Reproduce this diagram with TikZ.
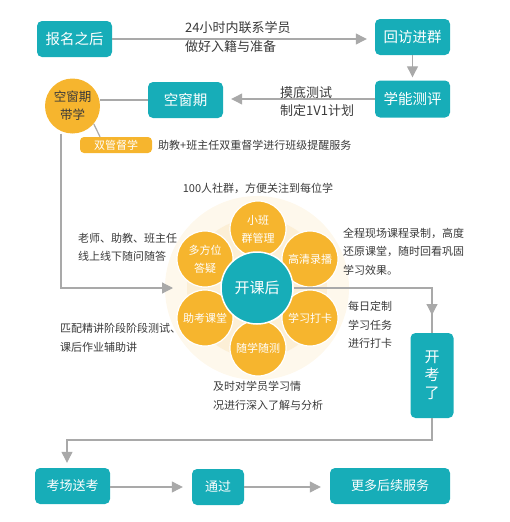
\documentclass[tikz,border=0pt]{standalone}
\usepackage{fontspec}
\setmainfont{Noto Sans CJK SC}
\usetikzlibrary{arrows.meta,positioning,calc}
\definecolor{teal1}{HTML}{17ADB8}
\definecolor{orng}{HTML}{F6B52E}
\definecolor{lgray}{HTML}{A9A9A9}
\definecolor{txt}{HTML}{3A3A3A}
\definecolor{pale1}{HTML}{FEF8EC}
\definecolor{pale2}{HTML}{FCEFD6}
\tikzset{
  tbox/.style={fill=teal1, rounded corners=5pt, text=white, inner sep=0pt, align=center, font=\fontsize{14.5}{16}\selectfont},
  bbox/.style={fill=teal1, rounded corners=5pt, text=white, inner sep=0pt, align=center, font=\fontsize{13}{15}\selectfont},
  petal/.style={circle, fill=orng, draw=white, line width=1.2pt, minimum size=56pt, inner sep=0pt, text=white, align=center, font=\fontsize{11}{18}\selectfont},
  lbl/.style={text=txt, inner sep=0pt, align=left, font=\fontsize{11}{18.5}\selectfont},
  lblb/.style={text=txt, inner sep=0pt, align=left, font=\fontsize{13}{18.5}\selectfont},
  conn/.style={draw=lgray, line width=1.2pt},
  arr/.style={conn, -{Triangle[width=11pt,length=11pt,fill=lgray]}},
}
\begin{document}
\begin{tikzpicture}[x=1pt,y=-1pt]
\useasboundingbox (0,0) rectangle (509,522);
% top row
\node[tbox, minimum width=75pt, minimum height=36pt] (bm) at (74.5,39) {报名之后};
\node[tbox, minimum width=75pt, minimum height=36pt] (hf) at (412.5,37) {回访进群};
\node[tbox, minimum width=75pt, minimum height=37pt] (xn) at (412.5,99) {学能测评};
\node[tbox, minimum width=75pt, minimum height=36pt] (kc) at (185.5,100) {空窗期};
\node[circle, fill=orng, minimum size=55pt, inner sep=0pt, text=txt, align=center, font=\fontsize{12.5}{18}\selectfont] (dx) at (72.5,106) {空窗期\\带学};
\node[fill=orng, rounded corners=4pt, minimum width=72pt, minimum height=16pt, inner sep=0pt, text=white, font=\fontsize{11}{13}\selectfont] (sg) at (116,145) {双管督学};

\draw[arr, shorten >=8pt] (bm.east) -- (hf.west |- bm.east);
\draw[arr, shorten >=3pt] (hf.south) -- (xn.north);
\draw[arr, shorten >=8pt] (xn.west) -- (kc.east |- xn.west);
\draw[conn] (dx.east |- kc.west) -- (kc.west);
\draw[conn] (dx.-40) -- (sg.north west -| 100,137);

\node[lblb, anchor=west] (t1) at (185,37) {24小时内联系学员\\做好入籍与准备};
\node[lblb, anchor=west] (t2) at (280,101.5) {摸底测试\\制定1V1计划};
\node[lbl, anchor=west] (t3) at (158,145) {助教+班主任双重督学进行班级提醒服务};

% flower
\fill[pale1] (257,288) circle (92);
\fill[pale2] (257,288) circle (70);
\coordinate (fin) at (173,288);
\draw[arr] (dx.south -| 61,0) -- (61,288) -- (fin);

\node[petal] (p1) at (258,229) {小班\\群管理};
\node[petal] (p2) at (310,259) {高清录播};
\node[petal] (p3) at (310,318) {学习打卡};
\node[petal] (p4) at (258,348) {随学随测};
\node[petal] (p5) at (205,318) {助考课堂};
\node[petal] (p6) at (205,259) {多方位\\答疑};
\node[circle, fill=teal1, draw=white, line width=1.5pt, minimum size=72pt, inner sep=0pt, text=white, font=\fontsize{15}{17}\selectfont] (kk) at (257,288) {开课后};

\node[lbl, anchor=south] (l1) at (258,194) {100人社群，方便关注到每位学};
\node[lbl, anchor=west] (l2) at (78,247.5) {老师、助教、班主任\\线上线下随问随答};
\node[lbl, anchor=west] (l3) at (343,251.5) {全程现场课程录制，高度\\还原课堂，随时回看巩固\\学习效果。};
\node[lbl, anchor=west] (l4) at (348,325) {每日定制\\学习任务\\进行打卡};
\node[lbl, anchor=west] (l5) at (60,338) {匹配精讲阶段阶段测试、\\课后作业辅助讲};
\node[lbl, anchor=west] (l6) at (213,396) {及时对学员学习情\\况进行深入了解与分析};

% exam
\node[tbox, minimum width=43pt, minimum height=85pt, font=\fontsize{15}{18}\selectfont] (kt) at (432,375.5) {开\\考\\了};
\draw[conn] (kk.east) -| (kt.north);
\coordinate (a1) at (432,300);
\coordinate (a2) at (432,315);
\draw[arr] (a1) -- (a2);

% bottom row
\node[bbox, minimum width=75pt, minimum height=36pt] (kz) at (72.5,486) {考场送考};
\node[bbox, minimum width=52pt, minimum height=36pt] (tg) at (218,487) {通过};
\node[bbox, minimum width=120pt, minimum height=36pt] (gd) at (390,486) {更多后续服务};
\coordinate (c1) at (432,440);
\coordinate (c2) at (67,440);
\draw[arr, shorten >=5pt] (kt.south) -- (c1) -- (c2) -- (kz.north -| c2);
\draw[arr, shorten >=9pt] (kz.east |- tg.west) -- (tg.west);
\draw[arr, shorten >=9pt] (tg.east) -- (gd.west |- tg.east);
\end{tikzpicture}
\end{document}
